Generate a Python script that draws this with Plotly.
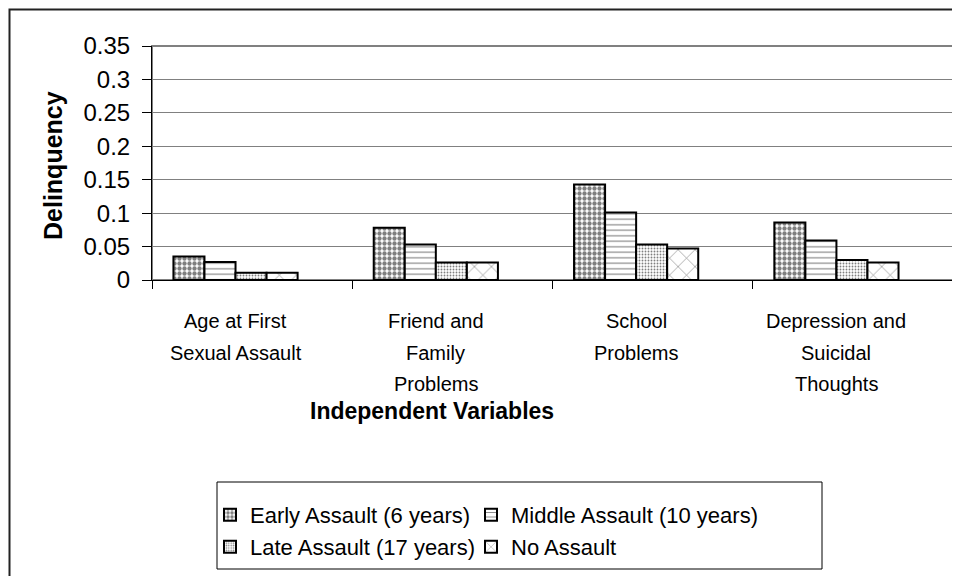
import plotly.graph_objects as go

categories = [["Age at First", "Sexual Assault"],
              ["Friend and", "Family", "Problems"],
              ["School", "Problems"],
              ["Depression and", "Suicidal", "Thoughts"]]
early = [0.035, 0.078, 0.143, 0.086]
middle = [0.027, 0.053, 0.101, 0.059]
late = [0.011, 0.026, 0.053, 0.030]
no_assault = [0.011, 0.026, 0.047, 0.026]
series_names = ["Early Assault (6 years)", "Middle Assault (10 years)",
                "Late Assault (17 years)", "No Assault"]
y_ticks = [0, 0.05, 0.1, 0.15, 0.2, 0.25, 0.3, 0.35]
y_ticktext = ["0", "0.05", "0.1", "0.15", "0.2", "0.25", "0.3", "0.35"]

FONT = "Arial, Liberation Sans, sans-serif"
xpos = list(range(len(categories)))

patterns = [
    dict(shape=".", size=5, solidity=0.6),
    dict(shape="-", size=5.5, solidity=0.2),
    dict(shape=".", size=3, solidity=0.3),
    dict(shape="x", size=12, solidity=0.1),
]
values = [early, middle, late, no_assault]
legends = ["legend", "legend", "legend2", "legend2"]
legend_widths = [216, 320, 216, 320]

fig = go.Figure()
for name, vals, pat, lg, lw in zip(series_names, values, patterns, legends, legend_widths):
    p = dict(pat)
    p.update(fgcolor="black", bgcolor="white")
    fig.add_trace(go.Bar(
        x=xpos, y=vals, name=name, legend=lg, legendwidth=lw,
        marker=dict(color="white", pattern=p, line=dict(color="black", width=2)),
    ))

# The page body has an 8px margin, so the figure is 8px smaller and offset.
OFF = 8
W, H = 960 - OFF, 576 - OFF
L, R, T, B = 152 - OFF, 7, 46 - OFF, 296
pw, ph = W - L - R, H - T - B

def px_x(px):
    return (px - OFF - L) / pw

def px_y(py):
    return (H - B - (py - OFF)) / ph

annotations = [
    dict(text="<b>Independent Variables</b>", xref="paper", yref="paper",
         x=px_x(432), y=px_y(411), showarrow=False, xanchor="center", yanchor="middle",
         font=dict(size=23, family=FONT)),
    dict(text="<b>Delinquency</b>", xref="paper", yref="paper", textangle=-90,
         x=px_x(53), y=px_y(166), showarrow=False, xanchor="center", yanchor="middle",
         font=dict(size=25, family=FONT)),
]
line_centers = [321, 353, 384]
for xi, lines in zip(xpos, categories):
    for li, line in enumerate(lines):
        annotations.append(dict(
            text=line, xref="x", yref="paper", x=xi, y=px_y(line_centers[li]),
            showarrow=False, xanchor="center", yanchor="middle",
            font=dict(size=20, family=FONT)))

fig.update_layout(
    width=W, height=H,
    margin=dict(l=L, r=R, t=T, b=B, autoexpand=False),
    paper_bgcolor="white", plot_bgcolor="white",
    barmode="group", bargap=0.38, bargroupgap=0,
    font=dict(family=FONT, color="black", size=20),
    legend=dict(orientation="h", x=px_x(210), xanchor="left", y=px_y(515), yanchor="middle",
                entrywidth=216, font=dict(size=22, family=FONT), bgcolor="rgba(0,0,0,0)",
                traceorder="normal"),
    legend2=dict(orientation="h", x=px_x(210), xanchor="left", y=px_y(547), yanchor="middle",
                 entrywidth=216, font=dict(size=22, family=FONT), bgcolor="rgba(0,0,0,0)",
                 traceorder="normal"),
    xaxis=dict(
        range=[-0.417, 3.582], tickvals=xpos, showticklabels=False,
        ticks="", ticklen=0, showgrid=False, zeroline=False,
        showline=True, linecolor="black", linewidth=1,
        minor=dict(tick0=-0.417, dtick=1, ticks="outside", ticklen=8,
                   tickcolor="black", showgrid=False),
    ),
    yaxis=dict(
        range=[0, 0.35], tickvals=y_ticks, ticktext=y_ticktext,
        ticks="outside", ticklen=9, tickcolor="black",
        showline=True, linecolor="black", linewidth=1,
        showgrid=True, gridcolor="#808080", gridwidth=1, zeroline=False,
        tickfont=dict(size=24, family=FONT), ticklabelstandoff=7,
    ),
    annotations=annotations,
    shapes=[
        dict(type="rect", xref="paper", yref="paper", x0=0, x1=1, y0=0, y1=1,
             line=dict(color="#808080", width=2), layer="below"),
        dict(type="rect", xref="paper", yref="paper", x0=px_x(217), x1=px_x(822),
             y0=px_y(569), y1=px_y(482), line=dict(color="black", width=1)),
        dict(type="rect", xref="paper", yref="paper", x0=px_x(9.5), x1=px_x(975),
             y0=px_y(590), y1=px_y(9.5), line=dict(color="#222", width=2)),
    ],
)

fig.write_html("out.html")
